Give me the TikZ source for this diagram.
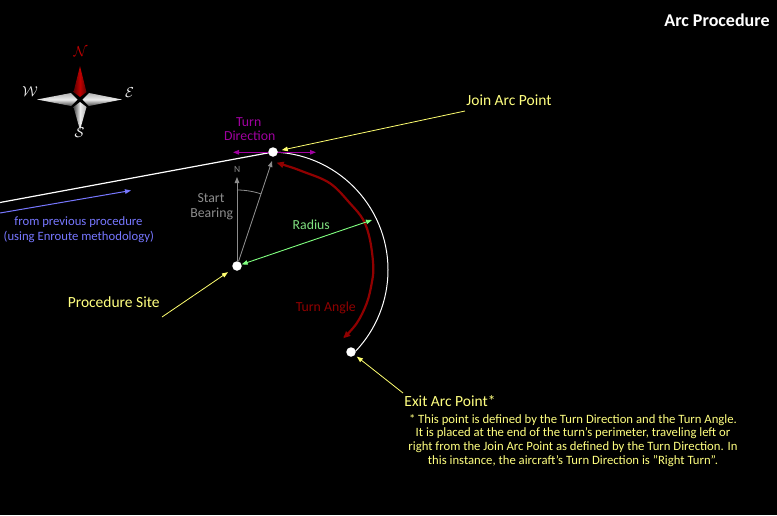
\documentclass[tikz,border=0pt]{standalone}
\usepackage{fontspec}
\setmainfont{Carlito}
\usetikzlibrary{arrows.meta}
\definecolor{ylw}{HTML}{FFFF80}
\definecolor{ylwline}{HTML}{FFFF70}
\definecolor{mag}{HTML}{A000A0}
\definecolor{grn}{HTML}{80FF80}
\definecolor{grntxt}{HTML}{80E080}
\definecolor{dred}{HTML}{900000}
\definecolor{blu}{HTML}{7777FF}
\definecolor{gry}{HTML}{8C8C8C}
\definecolor{cred}{HTML}{C00000}
\pgfdeclarelayer{fg}
\pgfsetlayers{main,fg}
\tikzset{
  dot/.style={circle,fill=white,inner sep=0pt,minimum size=9.5pt},
  tipa/.style={-{Triangle[length=6pt,width=4.5pt]}},
  dtip/.style={{Triangle[length=6pt,width=4.5pt]}-{Triangle[length=6pt,width=4.5pt]}},
  lbl/.style={inner sep=0pt,anchor=base},
  titletxt/.style={lbl,text=white,font=\fontsize{18}{18}\bfseries\selectfont},
  bigtxt/.style={lbl,font=\fontsize{15.5}{15.5}\selectfont},
  midtxt/.style={lbl,font=\fontsize{13.8}{13.8}\selectfont},
  smalltxt/.style={lbl,font=\fontsize{12.7}{12.7}\selectfont},
  notetxt/.style={lbl,text=ylw,font=\fontsize{12.7}{12.7}\selectfont},
  comptxt/.style={inner sep=0pt,font=\fontsize{14}{14}\selectfont},
}
\begin{document}
\begin{tikzpicture}[x=1pt,y=-1pt]
\fill[black] (0,0) rectangle (777,515);
\useasboundingbox (0,0) rectangle (777,515);

% ---------- compass ----------
\shade[left color=red!35!black,right color=red!35!black,middle color=cred]
  (80,66) -- (86.5,92) -- (80,97) -- (73.5,92) -- cycle;
\shade[left color=gray!55!black,right color=gray!60,middle color=white!85!gray]
  (80,130) -- (86.5,107) -- (80,102) -- (73.5,107) -- cycle;
\shade[top color=gray!60,bottom color=gray!55!black,middle color=white!85!gray]
  (37,99.5) -- (71,93) -- (77.5,99.5) -- (71,106) -- cycle;
\shade[top color=gray!60,bottom color=gray!55!black,middle color=white!85!gray]
  (122,99.5) -- (89,93) -- (82.5,99.5) -- (89,106) -- cycle;
\node[comptxt,text=cred] (cN) at (80.5,52) {$\mathcal{N}$};
\node[comptxt,text=white!90!gray] (cW) at (30,92) {$\mathcal{W}$};
\node[comptxt,text=white!90!gray] (cE) at (129.5,93) {$\mathcal{E}$};
\node[comptxt,text=white!90!gray] (cS) at (79.5,133) {$\mathcal{S}$};

% ---------- title ----------
\node[titletxt] (title) at (717,26) {Arc Procedure};

% ---------- key points ----------
\begin{pgfonlayer}{fg}
\node[dot] (join) at (273,152) {};
\node[dot] (site) at (237,266) {};
\node[dot] (exit) at (351,352) {};
\end{pgfonlayer}

% incoming path
\coordinate (prevstart) at (0,202.5);
\draw[white,line width=1.2pt] (prevstart) -- (join.center);
\coordinate (bluestart) at (0,213);
\coordinate (blueend) at (131,190.5);
\draw[blu,line width=1pt,tipa] (bluestart) -- (blueend);
\node[smalltxt,text=blu] (prev1) at (78.5,225.7) {from previous procedure};
\node[smalltxt,text=blu] (prev2) at (78.8,240) {(using Enroute methodology)};

% arc path
\draw[white,line width=1pt] (270,152) arc[start angle=-90,end angle=43.5,radius=118];

% turn angle
\draw[dred,line width=2.2pt,{Triangle[length=7pt,width=6pt]}-{Triangle[length=7pt,width=6pt]}]
  plot[smooth,tension=0.6] coordinates {(276.7,162.7) (303.3,171.7) (330,183.3) (350,203.3)
   (363.3,220) (370,240) (373.3,266.7) (371.7,283.3) (366.7,303.3) (356.7,323.3) (343.3,338.3)};
\node[midtxt,text=dred] (tang) at (325.8,311.7) {Turn Angle};

% radius
\coordinate (radend) at (372,220);
\draw[grn,line width=0.9pt,dtip] (site) -- (radend);
\node[midtxt,text=grntxt] (rad) at (311.3,229.3) {Radius};

% start bearing
\coordinate (ntip) at (237,177);
\coordinate (btip) at (272,161);
\draw[gry,line width=0.8pt,tipa] (site) -- (ntip);
\draw[gry,line width=0.8pt,tipa] (site) -- (btip);
\draw[gry,line width=0.8pt] (site.center) ++(-90:76) arc[start angle=-90,end angle=-71.6,radius=76];
\node[lbl,text=gry,font=\fontsize{9.5}{9.5}\selectfont] (nlab) at (237.3,172.7) {N};
\node[midtxt,text=gry] (sb1) at (211,202) {Start};
\node[midtxt,text=gry] (sb2) at (211.7,217.3) {Bearing};

% turn direction
\coordinate (tdl) at (233,152.3);
\coordinate (tdr) at (316,152.3);
\draw[mag,line width=1.2pt,dtip] (tdl) -- (tdr);
\node[midtxt,text=mag] (td1) at (248.7,126) {Turn};
\node[midtxt,text=mag] (td2) at (249.7,140) {Direction};

% labels with leaders
\node[bigtxt,text=ylw] (joinlbl) at (509,105) {Join Arc Point};
\coordinate (joinlead) at (465,111);
\draw[ylwline,line width=0.8pt,tipa,shorten >=4pt] (joinlead) -- (join);

\node[bigtxt,text=ylw] (sitelbl) at (113.7,307.5) {Procedure Site};
\coordinate (sitelead) at (162,317);
\draw[ylwline,line width=0.8pt,tipa,shorten >=6pt] (sitelead) -- (site);

\node[bigtxt,text=ylw] (exitlbl) at (450,406) {Exit Arc Point*};
\coordinate (exitlead) at (403,393);
\draw[ylwline,line width=0.8pt,tipa,shorten >=2.5pt] (exitlead) -- (exit);

% footnote
\node[notetxt] (n1) at (573,423.3) {* This point is defined by the Turn Direction and the Turn Angle.};
\node[notetxt] (n2) at (573,436.9) {It is placed at the end of the turn's perimeter, traveling left or};
\node[notetxt] (n3) at (573,450.5) {right from the Join Arc Point as defined by the Turn Direction. In};
\node[notetxt] (n4) at (573,464.1) {this instance, the aircraft's Turn Direction is "Right Turn".};
\end{tikzpicture}
\end{document}
